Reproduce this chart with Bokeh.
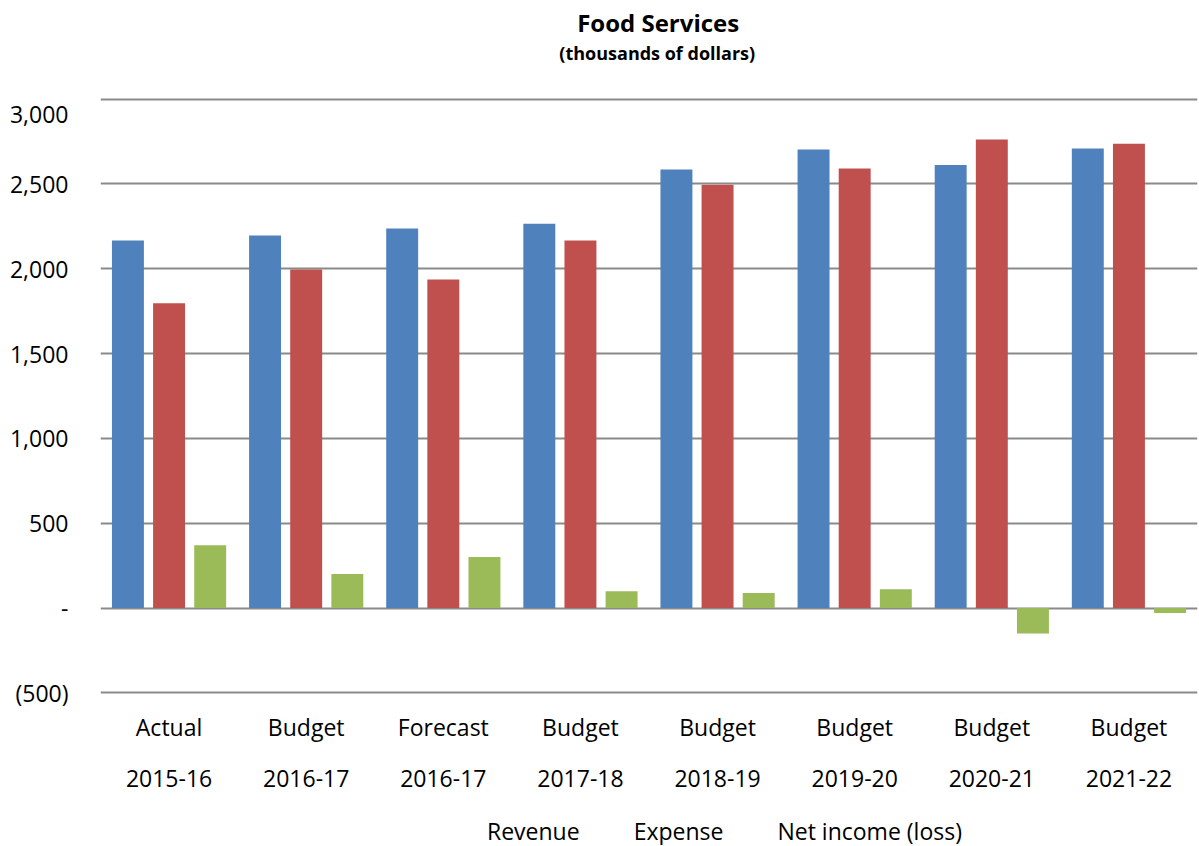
from bokeh.plotting import figure
from bokeh.layouts import column
from bokeh.models import (FactorRange, FixedTicker, CategoricalAxis, Legend, Range1d,
                          LegendItem, Label, ColumnDataSource, CustomJSTickFormatter)
from bokeh.transform import dodge
from bokeh.embed import file_html
from bokeh.resources import INLINE

# ---- data ----
periods = ["Actual", "Budget", "Forecast", "Budget", "Budget", "Budget", "Budget", "Budget"]
years = ["2015-16", "2016-17", "2016-17", "2017-18", "2018-19", "2019-20", "2020-21", "2021-22"]
revenue = [2167, 2197, 2238, 2266, 2585, 2703, 2612, 2709]
expense = [1797, 1996, 1937, 2167, 2496, 2592, 2762, 2738]
net_income = [370, 201, 301, 99, 89, 111, -150, -29]
series_names = ["Revenue", "Expense", "Net income (loss)"]
series_colors = ["#4F81BD", "#C0504D", "#9BBB59"]
y_ticks = [-500, 0, 500, 1000, 1500, 2000, 2500, 3000]
y_tick_labels = ["(500)", "-", "500", "1,000", "1,500", "2,000", "2,500", "3,000"]
title_text = "Food Services"
subtitle_text = "(thousands of dollars)"

factors = [f"{a}|{b}" for a, b in zip(periods, years)]
source = ColumnDataSource(dict(x=factors, revenue=revenue, expense=expense, net=net_income))

FONT = "Open Sans"
GRID = "#8A8A8A"
W = 1198

# ---------- title strip ----------
pt = figure(width=W, height=97, x_range=Range1d(0, W), y_range=Range1d(97, 0),
            x_axis_type=None, y_axis_type=None, output_backend="svg",
            toolbar_location=None, min_border=0, title=None)
pt.outline_line_color = None
pt.grid.visible = False
pt.add_layout(Label(x=609, y=22, text=title_text, text_align="center",
                    text_baseline="middle", text_font=FONT, text_font_size="24px",
                    text_font_style="bold", text_color="black"))
pt.add_layout(Label(x=608, y=52, text=subtitle_text, text_align="center",
                    text_baseline="middle", text_font=FONT, text_font_size="18px",
                    text_font_style="bold", text_color="black"))

# ---------- main chart ----------
p = figure(width=W, height=703, x_range=FactorRange(factors=factors),
           y_range=(-510, 3010), output_backend="svg", toolbar_location=None,
           min_border_left=100, min_border_right=1, min_border_top=0,
           min_border_bottom=106, title=None)
p.outline_line_color = None
p.background_fill_color = "white"
p.border_fill_color = "white"

offsets = [-0.3, 0.0, 0.3]
cols = ["revenue", "expense", "net"]
for off, col, color in zip(offsets, cols, series_colors):
    p.vbar(x=dodge("x", off, range=p.x_range), top=col, bottom=0, width=0.233,
           source=source, fill_color=color, line_color=None)

p.yaxis.ticker = FixedTicker(ticks=y_ticks)
p.yaxis.major_label_overrides = {t: l for t, l in zip(y_ticks, y_tick_labels)}
p.yaxis.axis_line_color = None
p.yaxis.major_tick_line_color = None
p.yaxis.minor_tick_line_color = None
p.yaxis.major_label_standoff = 26
p.yaxis.major_label_text_font = FONT
p.yaxis.major_label_text_font_size = "23px"
p.yaxis.major_label_text_color = "black"

p.ygrid.ticker = FixedTicker(ticks=y_ticks)
p.ygrid.grid_line_color = GRID
p.ygrid.grid_line_width = 2
p.xgrid.grid_line_color = None

ax1 = p.xaxis[0]
ax1.formatter = CustomJSTickFormatter(code="return String(tick).split('|')[0];")
ax2 = CategoricalAxis(formatter=CustomJSTickFormatter(code="return String(tick).split('|')[1];"))
p.add_layout(ax2, "below")
for ax, so in ((ax1, 10), (ax2, 18)):
    ax.axis_line_color = None
    ax.major_tick_line_color = None
    ax.minor_tick_line_color = None
    ax.major_label_standoff = so
    ax.major_label_text_font = FONT
    ax.major_label_text_font_size = "23px"
    ax.major_label_text_color = "black"

# ---------- legend strip ----------
pl = figure(width=W, height=45, x_axis_type=None, y_axis_type=None,
            output_backend="svg", toolbar_location=None, min_border=0, title=None)
pl.outline_line_color = None
pl.grid.visible = False
swatches = []
for color in series_colors:
    swatches.append(pl.vbar(x=[], top=[], width=0.5, fill_color=color, line_color=None))
legend = Legend(items=[LegendItem(label=n, renderers=[r]) for n, r in zip(series_names, swatches)],
                orientation="horizontal", location=(366, -2),
                glyph_width=14, glyph_height=14, label_standoff=7, spacing=33,
                padding=0, margin=0, border_line_color=None, background_fill_alpha=0,
                label_text_font=FONT, label_text_font_size="23px", label_text_color="black")
pl.add_layout(legend, "center")

layout = column(pt, p, pl, spacing=0)
open("out.html", "w").write(file_html(layout, INLINE))
